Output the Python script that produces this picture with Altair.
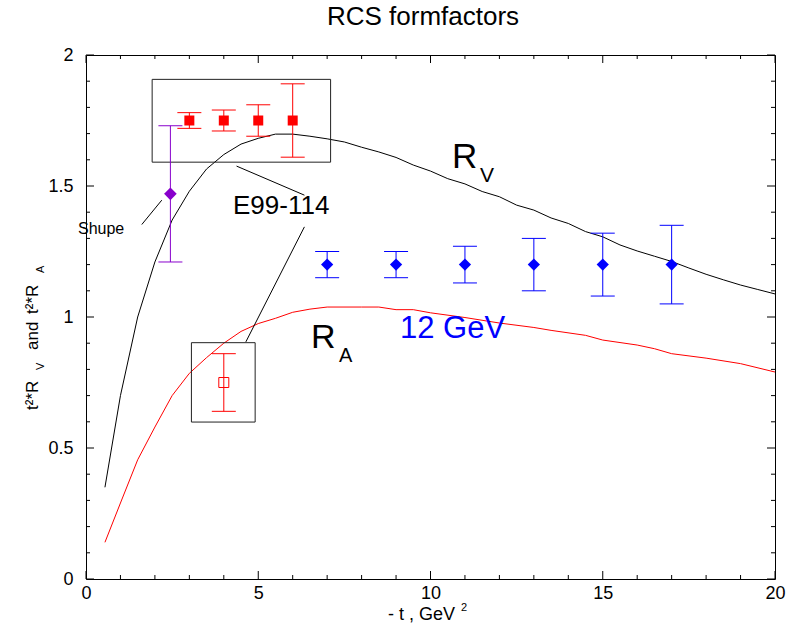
import altair as alt
import pandas as pd

FONT = "Liberation Sans"

# Model curves t^2*R_V and t^2*R_A against -t (GeV^2)
rv_t = [0.55, 1.0, 1.5, 2.0, 2.5, 3.0, 3.5, 4.0, 4.5, 5.0, 5.5, 6.0, 6.5, 7.0, 7.5,
        8.0, 8.5, 9.0, 9.5, 10.0, 10.5, 11.0, 11.5, 12.0, 12.5, 13.0, 13.5, 14.0,
        14.5, 15.0, 15.5, 16.0, 16.5, 17.0, 17.5, 18.0, 18.5, 19.0, 19.5, 20.0]
rv_val = [0.35, 0.70, 1.00, 1.21, 1.37, 1.48, 1.565, 1.62, 1.66, 1.682, 1.698, 1.698,
          1.69, 1.68, 1.668, 1.648, 1.63, 1.609, 1.58, 1.557, 1.528, 1.508, 1.479,
          1.459, 1.427, 1.408, 1.378, 1.357, 1.326, 1.306, 1.275, 1.252, 1.232,
          1.212, 1.187, 1.163, 1.142, 1.122, 1.105, 1.088]

ra_t = [0.55, 1.0, 1.5, 2.0, 2.5, 3.0, 3.5, 4.0, 4.5, 5.0, 5.5, 6.0, 6.5, 7.0, 8.0,
        8.5, 9.0, 9.5, 10.0, 11.0, 12.0, 13.0, 13.5, 14.5, 15.0, 16.0, 16.5, 17.0,
        18.0, 19.0, 20.0]
ra_val = [0.14, 0.29, 0.455, 0.58, 0.70, 0.785, 0.845, 0.90, 0.945, 0.975, 0.995,
          1.018, 1.03, 1.038, 1.038, 1.038, 1.028, 1.028, 1.016, 0.998, 0.977, 0.96,
          0.949, 0.93, 0.912, 0.893, 0.879, 0.86, 0.843, 0.822, 0.79]

# E99-114 measurements of R_V (filled squares)
e99_t = [3.0, 4.0, 5.0, 6.0]
e99_val = [1.75, 1.75, 1.75, 1.75]
e99_err = [0.03, 0.04, 0.06, 0.14]

# E99-114 measurement of R_A (open square)
e99a_t = [4.0]
e99a_val = [0.75]
e99a_err = [0.11]

# Shupe
shupe_t = [2.45]
shupe_val = [1.47]
shupe_err = [0.26]

# 12 GeV projections
gev_t = [7.0, 9.0, 11.0, 13.0, 15.0, 17.0]
gev_val = [1.2, 1.2, 1.2, 1.2, 1.2, 1.2]
gev_err = [0.05, 0.05, 0.07, 0.10, 0.12, 0.15]

# Annotation frames (t range, value range) and pointer segments
box_t0 = [1.92, 3.06]
box_t1 = [7.10, 4.91]
box_v0 = [1.907, 0.902]
box_v1 = [1.591, 0.599]

ptr_t0 = [1.62, 4.37, 6.34]
ptr_v0 = [1.353, 1.576, 1.344]
ptr_t1 = [2.20, 6.34, 4.64]
ptr_v1 = [1.446, 1.465, 0.905]

# Axis ticks
x_major = [0, 5, 10, 15, 20]
x_minor = [v for v in range(1, 20) if v % 5]
y_major = [0, 0.5, 1.0, 1.5, 2.0]
y_minor = [round(i * 0.1, 1) for i in range(1, 20) if i % 5]

W, H = 689, 524

xscale = alt.Scale(domain=[0, 20], nice=False, zero=False)
yscale = alt.Scale(domain=[0, 2], nice=False, zero=False)
xaxis = alt.Axis(values=x_major, ticks=False, domain=False, grid=False, title=None,
                 labelFontSize=18, labelFont=FONT, labelColor="black",
                 labelPadding=5, format="~g", labelFlush=False)
yaxis = alt.Axis(values=y_major, ticks=False, domain=False, grid=False, title=None,
                 labelFontSize=18, labelFont=FONT, labelColor="black",
                 labelPadding=13, format="~g", labelFlush=False)


def X(f):
    return alt.X(f, type="quantitative", scale=xscale, axis=xaxis)


def Y(f):
    return alt.Y(f, type="quantitative", scale=yscale, axis=yaxis)


def err_df(t, v, e):
    return pd.DataFrame({"t": t, "v": v,
                         "lo": [a - b for a, b in zip(v, e)],
                         "hi": [a + b for a, b in zip(v, e)]})


def error_bars(df, color):
    bar = alt.Chart(df).mark_rule(color=color, strokeWidth=1).encode(
        x=X("t"), y=Y("lo"), y2=alt.Y2("hi"))
    lo = alt.Chart(df).mark_tick(orient="horizontal", size=24, thickness=1,
                                 color=color, opacity=1).encode(x=X("t"), y=Y("lo"))
    hi = alt.Chart(df).mark_tick(orient="horizontal", size=24, thickness=1,
                                 color=color, opacity=1).encode(x=X("t"), y=Y("hi"))
    return [bar, lo, hi]


rv = pd.DataFrame({"t": rv_t, "v": rv_val})
ra = pd.DataFrame({"t": ra_t, "v": ra_val})
e99 = err_df(e99_t, e99_val, e99_err)
e99a = err_df(e99a_t, e99a_val, e99a_err)
shupe = err_df(shupe_t, shupe_val, shupe_err)
gev = err_df(gev_t, gev_val, gev_err)
boxes = pd.DataFrame({"t0": box_t0, "t1": box_t1, "v0": box_v0, "v1": box_v1})
ptrs = pd.DataFrame({"t0": ptr_t0, "t1": ptr_t1, "v0": ptr_v0, "v1": ptr_v1})

layers = []

# Inward ticks on all four sides
for vals, ln in ((x_major, 8), (x_minor, 4)):
    d = pd.DataFrame({"t": vals})
    layers.append(alt.Chart(d).mark_rule(color="black", strokeWidth=1).encode(
        x=X("t"), y=alt.value(H), y2=alt.value(H - ln)))
    layers.append(alt.Chart(d).mark_rule(color="black", strokeWidth=1).encode(
        x=X("t"), y=alt.value(0), y2=alt.value(ln)))
for vals, ln in ((y_major, 8), (y_minor, 4)):
    d = pd.DataFrame({"v": vals})
    layers.append(alt.Chart(d).mark_rule(color="black", strokeWidth=1).encode(
        y=Y("v"), x=alt.value(0), x2=alt.value(ln)))
    layers.append(alt.Chart(d).mark_rule(color="black", strokeWidth=1).encode(
        y=Y("v"), x=alt.value(W), x2=alt.value(W - ln)))

# Curves
layers.append(alt.Chart(rv).mark_line(color="black", strokeWidth=1).encode(x=X("t"), y=Y("v")))
layers.append(alt.Chart(ra).mark_line(color="red", strokeWidth=1).encode(x=X("t"), y=Y("v")))

# Frames and pointers
layers.append(alt.Chart(boxes).mark_rect(fillOpacity=0, stroke="#222222", strokeWidth=1).encode(
    x=X("t0"), x2=alt.X2("t1"), y=Y("v0"), y2=alt.Y2("v1")))
layers.append(alt.Chart(ptrs).mark_rule(color="black", strokeWidth=1).encode(
    x=X("t0"), x2=alt.X2("t1"), y=Y("v0"), y2=alt.Y2("v1")))

# Data points with error bars
layers += error_bars(shupe, "#8800cc")
layers.append(alt.Chart(shupe).mark_point(shape="diamond", filled=True, size=160,
                                          color="#8800cc", opacity=1).encode(x=X("t"), y=Y("v")))
layers += error_bars(e99, "red")
layers.append(alt.Chart(e99).mark_square(size=100, color="red", opacity=1).encode(x=X("t"), y=Y("v")))
layers += error_bars(e99a, "red")
layers.append(alt.Chart(e99a).mark_point(shape="square", filled=False, size=100, color="red",
                                         strokeWidth=1, opacity=1).encode(x=X("t"), y=Y("v")))
layers += error_bars(gev, "blue")
layers.append(alt.Chart(gev).mark_point(shape="diamond", filled=True, size=150,
                                        color="blue", opacity=1).encode(x=X("t"), y=Y("v")))

# Text placed in pixels relative to the plot area
one = alt.Data(values=[{}])


def label(text, px, py, size, color="black", angle=0):
    return alt.Chart(one).mark_text(text=text, font=FONT, fontSize=size, color=color,
                                    align="left", baseline="alphabetic", angle=angle).encode(
        x=alt.value(px), y=alt.value(py))


OX, OY = 86, 55
layers += [
    alt.Chart(one).mark_text(text="RCS formfactors", font=FONT, fontSize=26, color="black",
                             align="center", baseline="alphabetic").encode(
        x=alt.value(423 - OX), y=alt.value(25 - OY)),
    label("E99-114", 233 - OX, 214 - OY, 26),
    label("Shupe", 78 - OX, 234 - OY, 16),
    label("R", 452 - OX, 168 - OY, 35),
    label("V", 480 - OX, 182 - OY, 21),
    label("R", 311 - OX, 348 - OY, 34),
    label("A", 339 - OX, 362 - OY, 20),
    label("12 GeV", 400 - OX, 338 - OY, 31, color="blue"),
    # x-axis title with superscript
    label("- t , GeV", 388 - OX, 620 - OY, 18),
    label("2", 461 - OX, 611 - OY, 11),
    # y-axis title with subscripts, reading upward
    label("t²*R", 38 - OX, 410 - OY, 17, angle=270),
    label("V", 44 - OX, 370 - OY, 11, angle=270),
    label("and", 38 - OX, 350 - OY, 17, angle=270),
    label("t²*R", 38 - OX, 314 - OY, 17, angle=270),
    label("A", 44 - OX, 273 - OY, 11, angle=270),
]

chart = alt.layer(*layers).properties(
    width=W, height=H,
    autosize=alt.AutoSizeParams(type="none"),
    padding={"left": OX, "top": OY, "right": 786 - OX - W, "bottom": 629 - OY - H},
    background="white",
).configure_view(stroke="black", strokeWidth=1)

chart.save("out.html", embed_options={"renderer": "svg", "actions": False})
